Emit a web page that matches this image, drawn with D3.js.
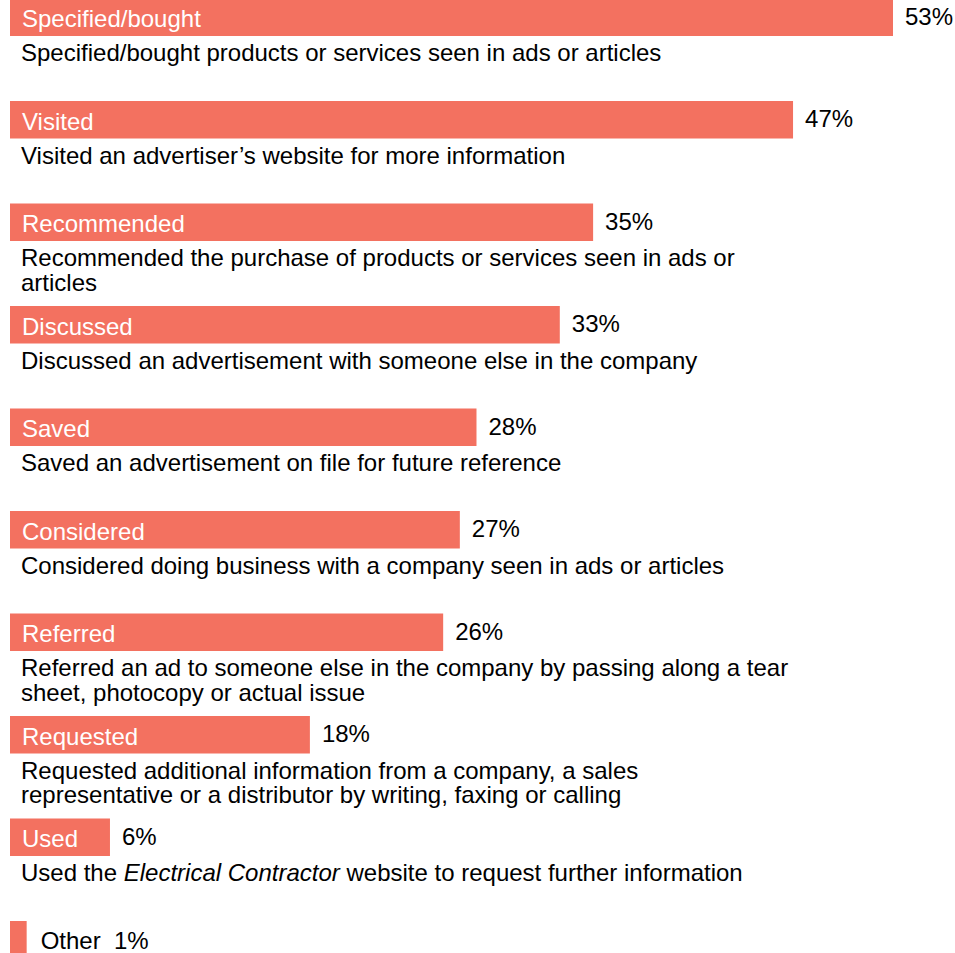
<!DOCTYPE html>
<html>
<head>
<meta charset="utf-8">
<script src="https://cdn.jsdelivr.net/npm/d3@7/dist/d3.min.js"></script>
<style>
  html, body { margin: 0; padding: 0; background: #fff; }
  svg { display: block; }
  text { font-family: "Liberation Sans", Arial, sans-serif; }
</style>
</head>
<body>
<svg id="chart" width="955" height="953"></svg>
<script>
// Short labels shown inside each bar
const categories = [
  "Specified/bought", "Visited", "Recommended", "Discussed", "Saved",
  "Considered", "Referred", "Requested", "Used", "Other"
];

// Share of respondents (%)
const values = [53, 47, 35, 33, 28, 27, 26, 18, 6, 1];

// Longer descriptions under each bar; *...* marks italic text
const descriptions = [
  ["Specified/bought products or services seen in ads or articles"],
  ["Visited an advertiser\u2019s website for more information"],
  ["Recommended the purchase of products or services seen in ads or", "articles"],
  ["Discussed an advertisement with someone else in the company"],
  ["Saved an advertisement on file for future reference"],
  ["Considered doing business with a company seen in ads or articles"],
  ["Referred an ad to someone else in the company by passing along a tear", "sheet, photocopy or actual issue"],
  ["Requested additional information from a company, a sales", "representative or a distributor by writing, faxing or calling"],
  ["Used the *Electrical Contractor* website to request further information"],
  []
];

const barColor = "#F37160";
const fontSize = 24;

const svg = d3.select("#chart");

const x = d3.scaleLinear().domain([0, 53]).range([10, 893]);
const rowStep = 102.5;
const y = d3.scaleBand()
  .domain(categories)
  .range([-1.5, -1.5 + rowStep * categories.length])
  .padding(0);
const barH = 37.5;

const data = categories.map((c, i) => ({ cat: c, value: values[i], desc: descriptions[i] }));

const rows = svg.selectAll("g.row")
  .data(data)
  .join("g")
  .attr("class", "row")
  .attr("transform", d => `translate(0,${y(d.cat)})`);

rows.append("rect")
  .attr("x", x(0))
  .attr("y", 0)
  .attr("width", d => x(d.value) - x(0))
  .attr("height", barH)
  .attr("fill", barColor);

const main = rows.filter(d => d.cat !== "Other");

// Category name inside the bar
main.append("text")
  .attr("x", 22)
  .attr("y", 28.5)
  .attr("fill", "#fff")
  .attr("font-size", fontSize)
  .text(d => d.cat);

// Value label at bar end
main.append("text")
  .attr("x", d => x(d.value) + 12)
  .attr("y", 26)
  .attr("fill", "#000")
  .attr("font-size", fontSize)
  .text(d => d.value + "%");

// Description lines below the bar
main.each(function(d) {
  const g = d3.select(this);
  d.desc.forEach((line, li) => {
    const t = g.append("text")
      .attr("x", 21)
      .attr("y", 62.5 + li * 24.5)
      .attr("fill", "#000")
      .attr("font-size", fontSize);
    line.split("*").forEach((part, pi) => {
      if (!part) return;
      t.append("tspan")
        .attr("font-style", pi % 2 === 1 ? "italic" : "normal")
        .text(part);
    });
  });
});

// "Other" row: label to the right of the small bar
const other = rows.filter(d => d.cat === "Other");
other.append("text")
  .attr("x", d => x(d.value) + 14)
  .attr("y", 27.5)
  .attr("fill", "#000")
  .attr("font-size", fontSize)
  .attr("xml:space", "preserve")
  .style("white-space", "pre")
  .text(d => `${d.cat}  ${d.value}%`);
</script>
</body>
</html>
